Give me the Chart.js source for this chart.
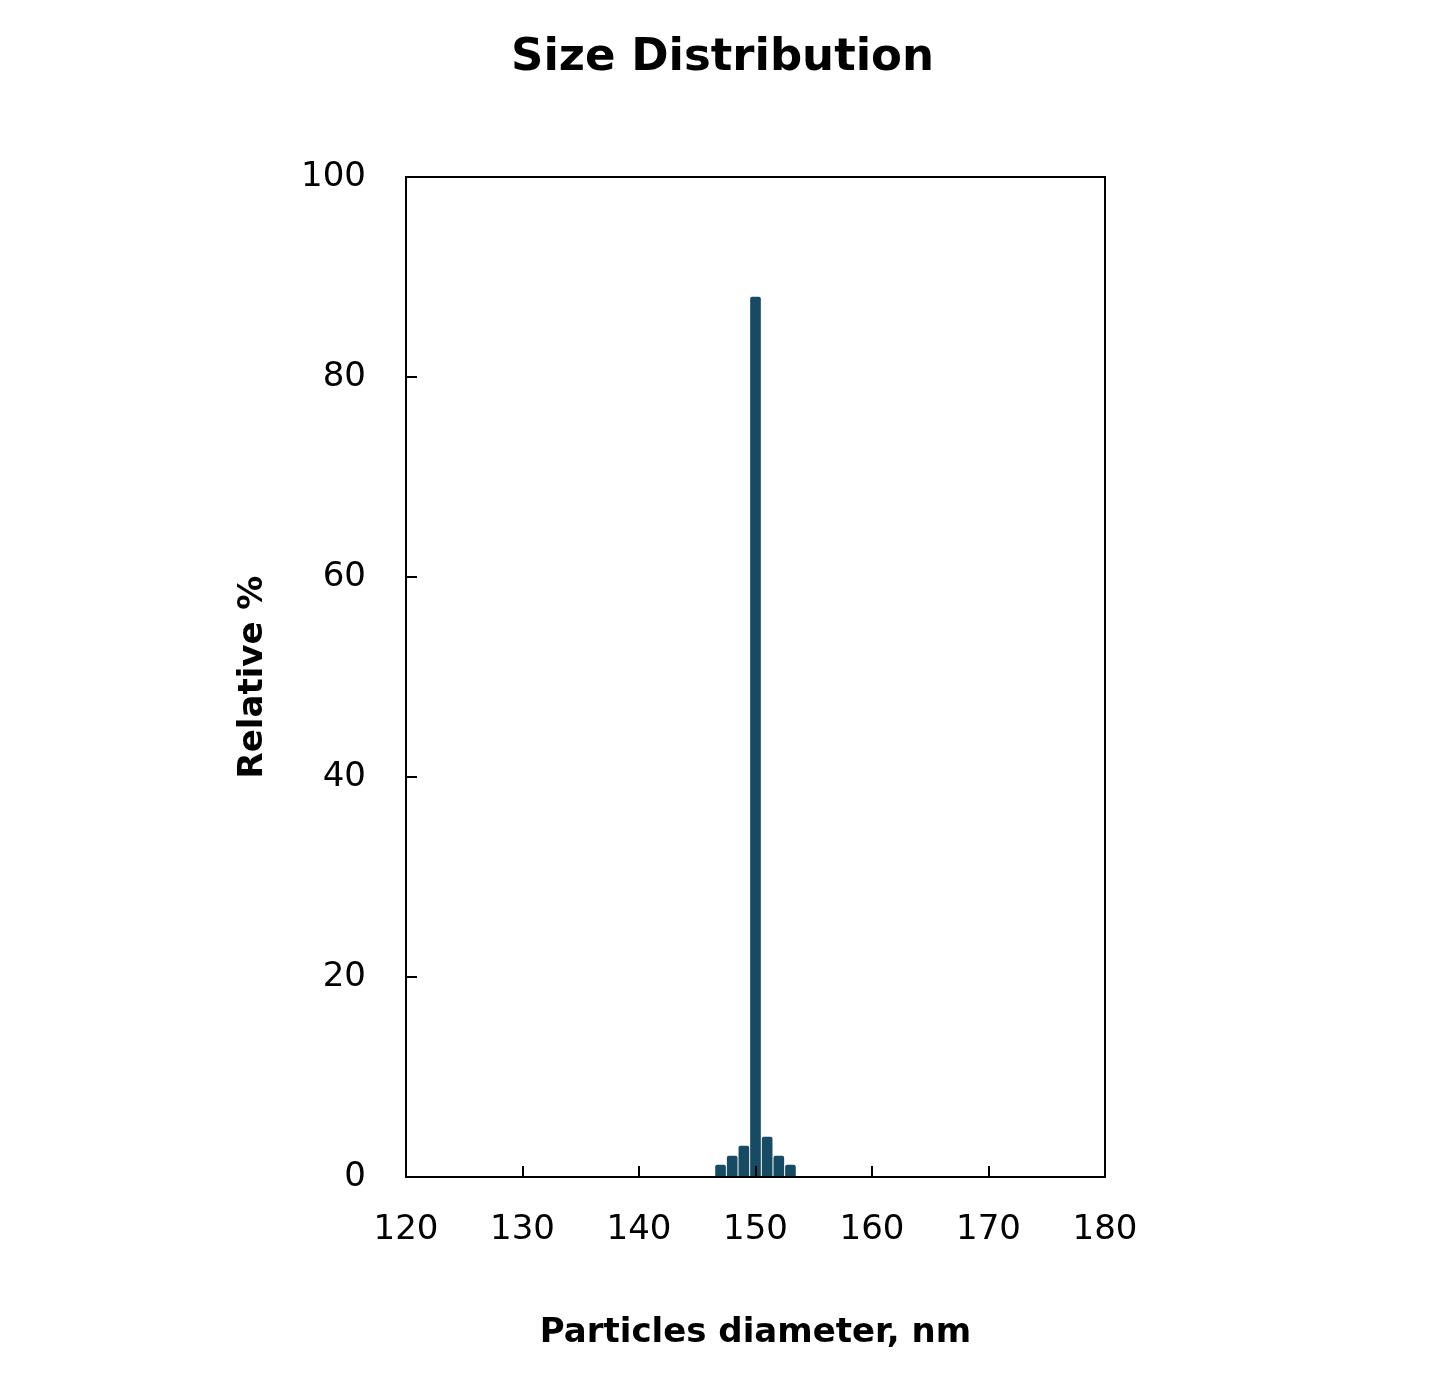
<!DOCTYPE html>
<html><head><meta charset="utf-8">
<script src="https://cdn.jsdelivr.net/npm/chart.js@4/dist/chart.umd.min.js"></script>
<style>html,body{margin:0;padding:0;background:#fff;}#wrap{width:1445px;height:1397px;}</style>
</head><body><div id="wrap"><canvas id="c" width="1445" height="1397"></canvas></div>
<script>
const diameters = [147, 148, 149, 150, 151, 152, 153];
const relative = [1.2, 2.1, 3.1, 88, 4, 2.1, 1.2];
const xTicks = [120, 130, 140, 150, 160, 170, 180];
const yTicks = [0, 20, 40, 60, 80, 100];
const chartTitle = 'Size Distribution';

const FONT = "'DejaVu Sans'";

const boxPlugin = {
  id: 'box',
  afterDraw(chart) {
    const {ctx, chartArea: a, scales} = chart;
    ctx.save();
    ctx.strokeStyle = '#000';
    ctx.lineWidth = 2;
    ctx.strokeRect(a.left, a.top, a.right - a.left, a.bottom - a.top);
    ctx.beginPath();
    xTicks.forEach(v => {
      const px = Math.round(scales.x.getPixelForValue(v));
      ctx.moveTo(px, a.bottom); ctx.lineTo(px, a.bottom - 11);
    });
    yTicks.forEach(v => {
      const py = Math.round(scales.y.getPixelForValue(v));
      ctx.moveTo(a.left, py); ctx.lineTo(a.left + 11, py);
    });
    ctx.stroke();
    ctx.fillStyle = '#000';
    ctx.font = "bold 45px " + FONT;
    ctx.textAlign = 'center';
    ctx.textBaseline = 'middle';
    ctx.fillText(chartTitle, chart.width / 2, 58);
    ctx.restore();
  }
};

new Chart(document.getElementById('c'), {
  type: 'bar',
  data: {
    datasets: [{
      data: diameters.map((d, i) => ({x: d, y: relative[i]})),
      backgroundColor: '#174b63',
      borderColor: '#174b63',
      barThickness: 10,
      borderRadius: 2,
      borderSkipped: false
    }]
  },
  options: {
    responsive: false,
    animation: false,
    devicePixelRatio: 1,
    layout: {padding: {left: 233, right: 340, top: 177, bottom: 43}},
    plugins: {
      legend: {display: false},
      tooltip: {enabled: false},
      title: {display: false}
    },
    scales: {
      x: {
        type: 'linear',
        offset: false,
        min: 120, max: 180,
        afterBuildTicks: s => { s.ticks = xTicks.map(v => ({value: v})); },
        afterFit: s => { s.height = 177; },
        grid: {display: false, drawTicks: false, offset: false},
        border: {display: false},
        ticks: {color: '#000', font: {family: FONT, size: 34}, padding: 33, maxRotation: 0},
        title: {display: true, text: 'Particles diameter, nm', color: '#000',
          font: {family: FONT, size: 34, weight: 'bold'}, padding: {top: 0, bottom: 0}}
      },
      y: {
        min: 0, max: 100,
        afterBuildTicks: s => { s.ticks = yTicks.map(v => ({value: v})); },
        afterFit: s => { s.width = 173; },
        grid: {display: false, drawTicks: false},
        border: {display: false},
        ticks: {color: '#000', font: {family: FONT, size: 34}, padding: 40},
        title: {display: true, text: 'Relative %', color: '#000',
          font: {family: FONT, size: 34, weight: 'bold'}, padding: {top: 0, bottom: 0}}
      }
    }
  },
  plugins: [boxPlugin]
});
</script></body></html>
